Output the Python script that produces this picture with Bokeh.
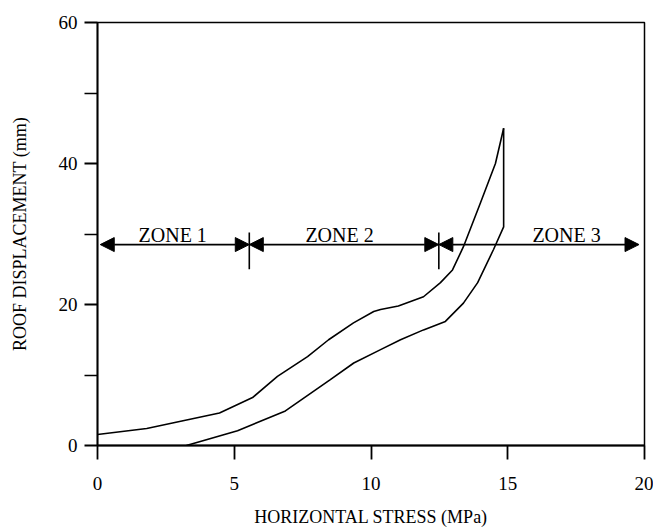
from bokeh.plotting import figure
from bokeh.models import Range1d, FixedTicker, Arrow, NormalHead, ColumnDataSource
from bokeh.embed import file_html
from bokeh.resources import INLINE
from bokeh.core.properties import value

# ---- data ----
x_ticks = [0, 5, 10, 15, 20]
y_ticks = [0, 20, 40, 60]
y_minor = [10, 30, 50]

# loading branch (upper curve), up to the peak
load_x = [0.0, 1.8, 3.0, 4.46, 5.67, 6.58, 7.68, 8.45, 9.36, 10.1, 10.35, 11.0, 11.92, 12.54, 12.98, 13.38, 14.0, 14.55, 14.85]
load_y = [1.55, 2.4, 3.4, 4.6, 6.8, 9.8, 12.6, 15.0, 17.4, 19.0, 19.3, 19.8, 21.1, 23.1, 24.9, 28.2, 34.4, 40.0, 45.0]

# unloading branch (drop at peak then lower curve)
unload_x = [14.85, 14.85, 14.48, 13.9, 13.38, 12.72, 11.92, 11.08, 10.35, 9.37, 8.5, 6.87, 5.12, 3.25]
unload_y = [45.0, 31.0, 27.8, 23.1, 20.2, 17.6, 16.4, 15.0, 13.6, 11.7, 9.3, 4.9, 2.1, 0.0]

# zones
zone_bounds = [0.1, 5.55, 12.48, 19.8]
zone_line_y = 28.5
divider_x = [5.55, 12.48]
divider_y0 = [25.0, 25.0]
divider_y1 = [30.2, 30.2]
zone_labels = ["ZONE 1", "ZONE 2", "ZONE 3"]
zone_label_x = [2.75, 8.85, 17.15]
zone_label_y = [29.8, 29.8, 29.8]

FONT = "Liberation Serif"

p = figure(width=653, height=529,
           x_range=Range1d(0, 20), y_range=Range1d(0, 60),
           output_backend="svg", toolbar_location=None,
           min_border_left=97, min_border_right=9,
           min_border_top=22, min_border_bottom=83)

p.xgrid.visible = False
p.ygrid.visible = False
p.outline_line_color = "black"
p.outline_line_width = 1.5
p.background_fill_color = "white"
p.border_fill_color = "white"

# x axis
xa = p.xaxis[0]
xa.ticker = FixedTicker(ticks=x_ticks)
xa.axis_label = "HORIZONTAL STRESS (MPa)"
xa.axis_label_text_font = FONT
xa.axis_label_text_font_style = "normal"
xa.axis_label_text_font_size = "18px"
xa.axis_label_text_color = "black"
xa.axis_label_standoff = 14
xa.major_label_text_font = FONT
xa.major_label_text_font_size = "19px"
xa.major_label_text_color = "black"
xa.major_label_standoff = 17
xa.major_tick_out = 14
xa.major_tick_in = 0
xa.minor_tick_out = 0
xa.minor_tick_in = 0
xa.axis_line_width = 1.8
xa.major_tick_line_width = 1.8
xa.axis_line_color = "black"
xa.major_tick_line_color = "black"

# y axis
ya = p.yaxis[0]
ya.ticker = FixedTicker(ticks=y_ticks, minor_ticks=y_minor)
ya.axis_label = "ROOF DISPLACEMENT (mm)"
ya.axis_label_text_font = FONT
ya.axis_label_text_font_style = "normal"
ya.axis_label_text_font_size = "18px"
ya.axis_label_text_color = "black"
ya.axis_label_standoff = 26
ya.major_label_text_font = FONT
ya.major_label_text_font_size = "19px"
ya.major_label_text_color = "black"
ya.major_label_standoff = 7
ya.major_tick_out = 13
ya.major_tick_in = 0
ya.minor_tick_out = 13
ya.minor_tick_in = 0
ya.axis_line_width = 1.8
ya.major_tick_line_width = 1.8
ya.minor_tick_line_width = 1.5
ya.axis_line_color = "black"
ya.major_tick_line_color = "black"
ya.minor_tick_line_color = "black"

# curves
p.line(load_x, load_y, line_color="black", line_width=1.6)
p.line(unload_x, unload_y, line_color="black", line_width=1.6)

# zone arrows (double headed)
for i in range(len(zone_bounds) - 1):
    p.add_layout(Arrow(
        x_start=zone_bounds[i], y_start=zone_line_y,
        x_end=zone_bounds[i + 1], y_end=zone_line_y,
        start=NormalHead(size=14, fill_color="black", line_color="black", line_width=1),
        end=NormalHead(size=14, fill_color="black", line_color="black", line_width=1),
        line_color="black", line_width=1.6))

# dividers
p.segment(x0=divider_x, y0=divider_y0, x1=divider_x, y1=divider_y1,
          line_color="black", line_width=1.6)

# zone labels
src = ColumnDataSource(dict(x=zone_label_x, y=zone_label_y, t=zone_labels))
p.text(x="x", y="y", text="t", source=src, text_font=value(FONT),
       text_font_size="20px", text_align="center", text_baseline="alphabetic",
       text_color="black")

open("out.html", "w").write(file_html(p, INLINE))
